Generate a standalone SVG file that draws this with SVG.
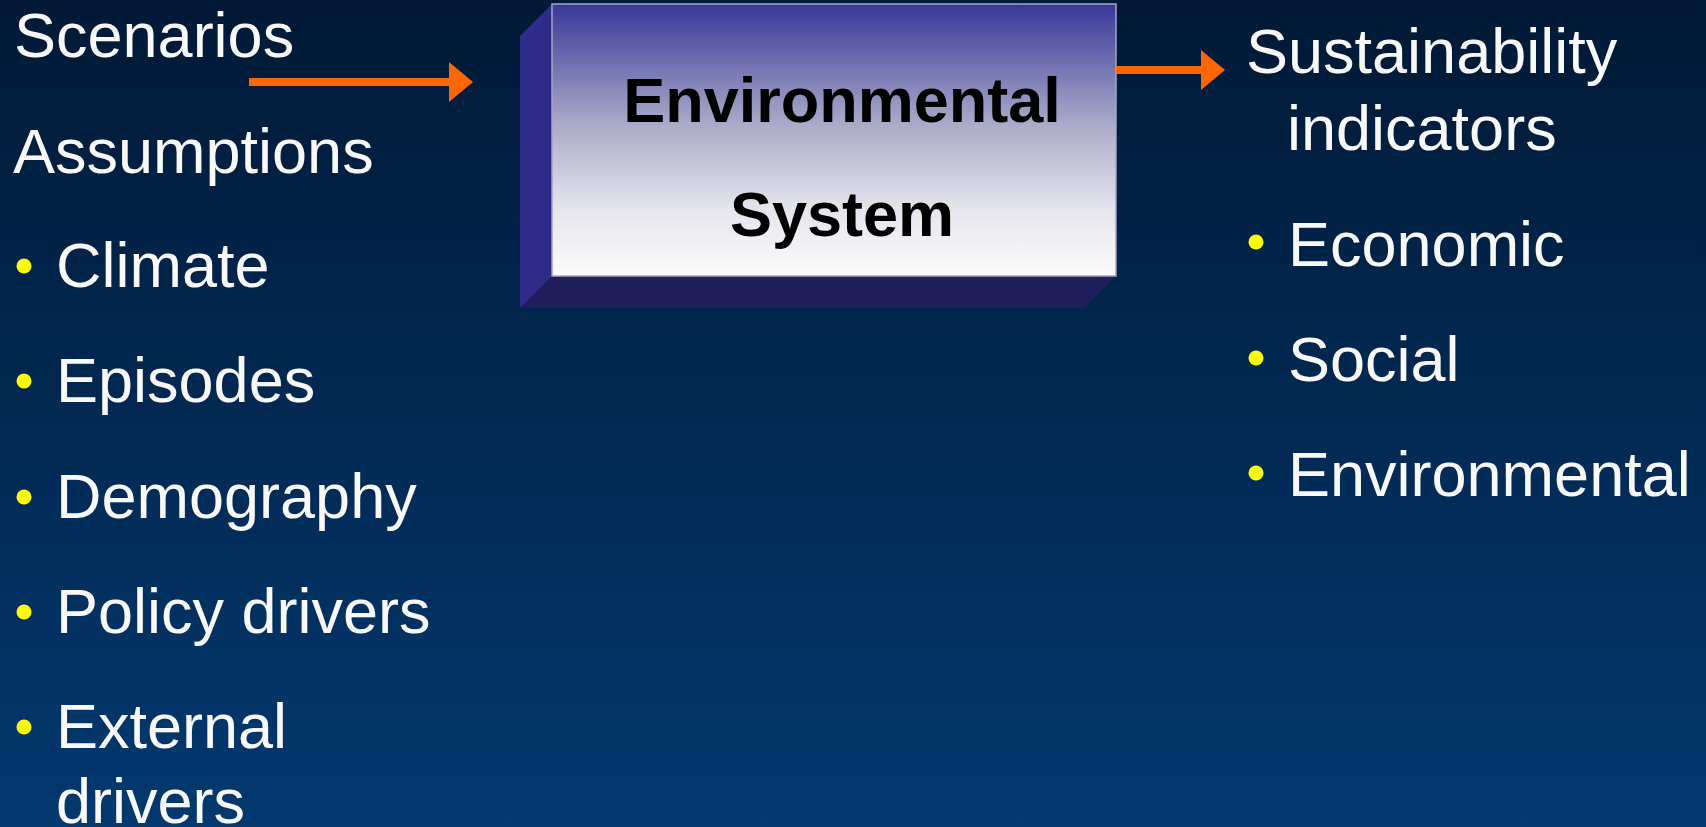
<svg xmlns="http://www.w3.org/2000/svg" width="1706" height="827" viewBox="0 0 1706 827">
  <defs>
    <linearGradient id="bg" x1="0" y1="0" x2="0" y2="1">
      <stop offset="0" stop-color="#011936"/>
      <stop offset="1" stop-color="#03396f"/>
    </linearGradient>
    <linearGradient id="face" x1="0" y1="0" x2="0" y2="1">
      <stop offset="0" stop-color="#383898"/>
      <stop offset="0.45" stop-color="#acacca"/>
      <stop offset="0.75" stop-color="#e4e4ec"/>
      <stop offset="1" stop-color="#fcfcfc"/>
    </linearGradient>
    <marker id="head" markerUnits="userSpaceOnUse" markerWidth="24" markerHeight="40" viewBox="0 0 24 40" refX="0" refY="20" orient="auto">
      <path d="M0,0 L24,20 L0,40 Z" fill="#ff6600"/>
    </marker>
    <style>
      .lbl { font-family: "Liberation Sans", Arial, sans-serif; font-size: 63px; fill: #f8f8f8; }
      .box { font-family: "Liberation Sans", Arial, sans-serif; font-size: 63px; font-weight: bold; fill: #000; text-anchor: middle; }
      .dot { fill: #ffff00; }
      .conn { stroke: #ff6600; stroke-width: 8; fill: none; marker-end: url(#head); }
    </style>
  </defs>

  <rect width="1706" height="827" fill="url(#bg)"/>

  <!-- inputs -->
  <g id="inputs">
    <text class="lbl" x="14" y="57">Scenarios</text>
    <text class="lbl" x="13" y="173">Assumptions</text>
    <circle class="dot" cx="24" cy="266" r="7.5"/>
    <text class="lbl" x="56" y="287">Climate</text>
    <circle class="dot" cx="24" cy="381" r="7.5"/>
    <text class="lbl" x="56" y="402">Episodes</text>
    <circle class="dot" cx="24" cy="497" r="7.5"/>
    <text class="lbl" x="56" y="518">Demography</text>
    <circle class="dot" cx="24" cy="612" r="7.5"/>
    <text class="lbl" x="56" y="633">Policy drivers</text>
    <circle class="dot" cx="24" cy="727" r="7.5"/>
    <text class="lbl" x="56" y="748">External</text>
    <text class="lbl" x="56" y="823">drivers</text>
  </g>

  <!-- central block with bevelled sides -->
  <g id="environmental-system">
    <polygon points="552,4 520,36 520,308 552,276" fill="#2f2b88"/>
    <polygon points="552,276 1116,276 1084,308 520,308" fill="#201e5a"/>
    <rect x="552" y="4" width="564" height="272" fill="url(#face)" stroke="#a4a4c4" stroke-width="1.5"/>
    <text class="box" x="842" y="122">Environmental</text>
    <text class="box" x="842" y="236">System</text>
  </g>

  <!-- outputs -->
  <g id="outputs">
    <text class="lbl" x="1246" y="73">Sustainability</text>
    <text class="lbl" x="1287" y="150">indicators</text>
    <circle class="dot" cx="1256" cy="242" r="7.5"/>
    <text class="lbl" x="1288" y="266">Economic</text>
    <circle class="dot" cx="1256" cy="358" r="7.5"/>
    <text class="lbl" x="1288" y="381">Social</text>
    <circle class="dot" cx="1256" cy="473" r="7.5"/>
    <text class="lbl" x="1288" y="496">Environmental</text>
  </g>

  <g id="connectors">
    <line class="conn" x1="249" y1="82" x2="449" y2="82"/>
    <line class="conn" x1="1116" y1="70" x2="1201" y2="70"/>
  </g>
</svg>
